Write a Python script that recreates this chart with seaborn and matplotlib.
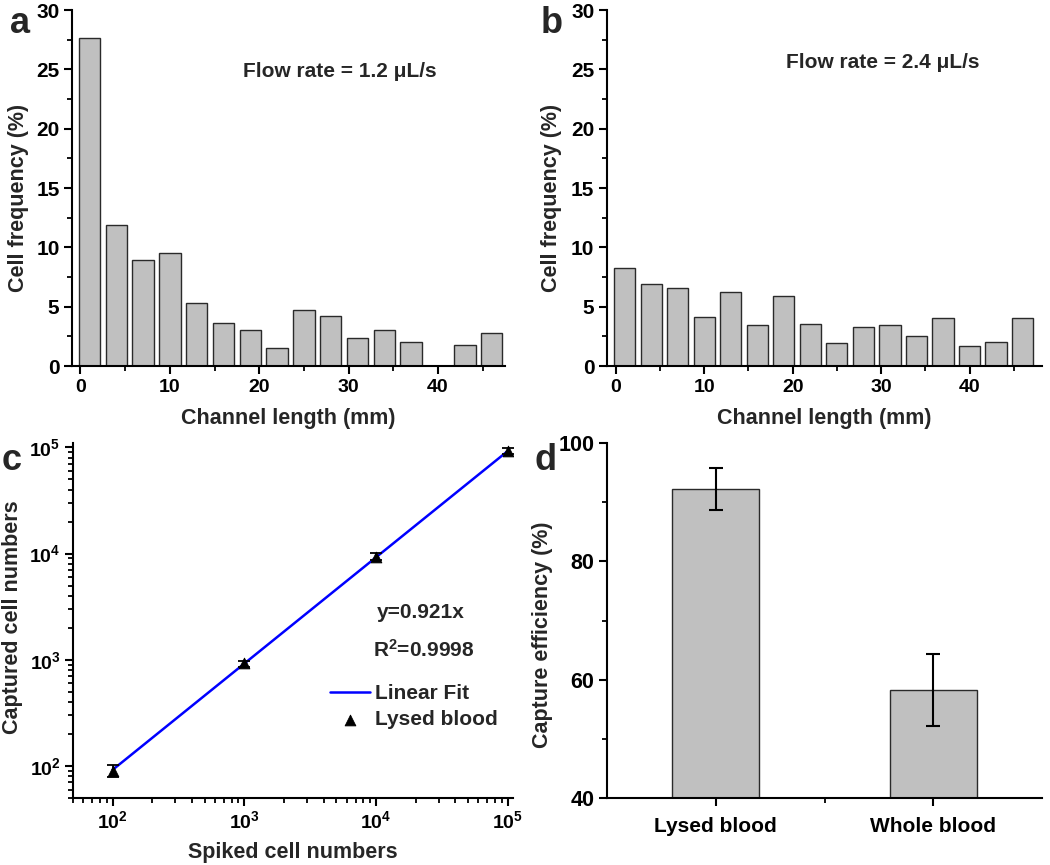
import numpy as np
import pandas as pd
import matplotlib
matplotlib.use("Agg")
import matplotlib.pyplot as plt
import seaborn as sns
from matplotlib.ticker import MultipleLocator, FixedLocator, LogLocator, FuncFormatter, NullFormatter

# ---------------- data ----------------
bin_centers_mm = [1, 4, 7, 10, 13, 16, 19, 22, 25, 28, 31, 34, 37, 40, 43, 46]
freq_flow_12 = [27.6, 11.9, 8.9, 9.5, 5.3, 3.6, 3.0, 1.5, 4.75, 4.2, 2.35, 3.0, 2.0, 0.0, 1.8, 2.8]
freq_flow_24 = [8.3, 6.9, 6.55, 4.1, 6.2, 3.45, 5.9, 3.55, 1.95, 3.3, 3.45, 2.5, 4.05, 1.7, 2.05, 4.05]

spiked_cells = [1e2, 1e3, 1e4, 1e5]
captured_cells = [90, 925, 9350, 92000]
captured_err = [12, 60, 700, 6000]
fit_slope = 0.921
fit_r2 = 0.9998

groups = ["Lysed blood", "Whole blood"]
efficiency = [92.2, 58.3]
efficiency_err = [3.6, 6.1]

# ---------------- style ----------------
sns.set_theme(style="ticks")
plt.rcParams["font.family"] = ["Liberation Sans", "DejaVu Sans"]
plt.rcParams["font.weight"] = "bold"
plt.rcParams["axes.labelweight"] = "bold"
plt.rcParams["mathtext.fontset"] = "custom"
plt.rcParams["mathtext.rm"] = "Liberation Sans:bold"
plt.rcParams["mathtext.bf"] = "Liberation Sans:bold"
plt.rcParams["mathtext.it"] = "Liberation Sans:bold"

TICK_FS = 14
YTICK_FS = 15
LABEL_FS = 15.5
TEXT_FS = 15
BAR_COLOR = "#C0C0C0"
EDGE = "#2a2a2a"

fig = plt.figure(figsize=(10.5, 8.65), dpi=100)
W, H = 1050, 865


def add_ax(left, top, right, bottom):
    return fig.add_axes([left / W, 1 - bottom / H, (right - left) / W, (bottom - top) / H])


def style_ax(ax):
    for s in ["top", "right"]:
        ax.spines[s].set_visible(False)
    for s in ["left", "bottom"]:
        ax.spines[s].set_linewidth(1.5)
        ax.spines[s].set_color("black")
    ax.tick_params(which="major", direction="out", length=6, width=1.5, labelsize=TICK_FS, colors="black", pad=3)
    ax.tick_params(axis="y", which="major", labelsize=YTICK_FS)
    ax.tick_params(which="minor", direction="out", length=3.5, width=1.3, colors="black")
    ax.set_facecolor("white")
    for lab in ax.get_xticklabels() + ax.get_yticklabels():
        lab.set_fontweight("bold")


def hist_panel(ax, values, flow_text, text_xy, ylab_x):
    df = pd.DataFrame({"length": bin_centers_mm, "freq": values})
    sns.barplot(data=df, x="length", y="freq", native_scale=True, width=0.8,
                color=BAR_COLOR, saturation=1, edgecolor=EDGE, linewidth=1.0, ax=ax)
    ax.set_xlim(-0.95, 47.5)
    ax.set_ylim(0, 30)
    ax.xaxis.set_major_locator(FixedLocator([0, 10, 20, 30, 40]))
    ax.xaxis.set_minor_locator(FixedLocator([5, 15, 25, 35, 45]))
    ax.yaxis.set_major_locator(MultipleLocator(5))
    ax.yaxis.set_minor_locator(MultipleLocator(2.5))
    ax.set_xlabel("Channel length (mm)", fontsize=LABEL_FS, fontweight="bold")
    ax.set_ylabel("Cell frequency (%)", fontsize=LABEL_FS, fontweight="bold")
    style_ax(ax)
    ax.xaxis.set_label_coords(0.5, -0.117)
    ax.yaxis.set_label_coords(ylab_x, 0.473)
    ax.text(text_xy[0], text_xy[1], flow_text, ha="center", va="center",
            fontsize=TEXT_FS, fontweight="bold")


# ---- panel a ----
ax_a = add_ax(72, 10, 505, 366)
hist_panel(ax_a, freq_flow_12, "Flow rate = 1.2 \u03bcL/s", (29.0, 24.85), -0.099)

# ---- panel b ----
ax_b = add_ax(607, 10, 1042, 366)
hist_panel(ax_b, freq_flow_24, "Flow rate = 2.4 \u03bcL/s", (30.2, 25.6), -0.103)
ax_b.set_xlim(-1.0, 48.2)

# ---- panel c ----
ax_c = add_ax(73, 443, 513, 798)
fit_x = np.array([min(spiked_cells), max(spiked_cells)])
fit_y = fit_slope * fit_x
sns.lineplot(x=fit_x, y=fit_y, color="#0000FF", linewidth=1.8, label="Linear Fit", ax=ax_c)
ax_c.errorbar(spiked_cells, captured_cells, yerr=captured_err, fmt="none",
              ecolor="black", elinewidth=1.3, capsize=4, capthick=1.3)
sns.scatterplot(x=spiked_cells, y=captured_cells, marker="^", color="black",
                edgecolor="black", s=60, label="Lysed blood", ax=ax_c, zorder=5)
ax_c.set_xscale("log")
ax_c.set_yscale("log")
ax_c.set_xlim(50, 1.1e5)
ax_c.set_ylim(50, 1.1e5)
for axis in (ax_c.xaxis, ax_c.yaxis):
    axis.set_major_locator(FixedLocator([1e2, 1e3, 1e4, 1e5]))
    axis.set_minor_locator(LogLocator(base=10, subs=np.arange(2, 10), numticks=20))
    axis.set_minor_formatter(NullFormatter())
    axis.set_major_formatter(FuncFormatter(lambda v, p: r"$\mathbf{10^{%d}}$" % int(round(np.log10(v)))))
ax_c.set_xlabel("Spiked cell numbers", fontsize=LABEL_FS, fontweight="bold")
ax_c.set_ylabel("Captured cell numbers", fontsize=LABEL_FS, fontweight="bold")
style_ax(ax_c)
ax_c.tick_params(axis="y", which="major", labelsize=TICK_FS)
ax_c.xaxis.set_label_coords(0.5, -0.123)
ax_c.yaxis.set_label_coords(-0.114, 0.51)
leg = ax_c.legend(loc="upper left", bbox_to_anchor=(0.566, 0.345), frameon=False,
                  fontsize=TEXT_FS, handlelength=1.9, handletextpad=0.25,
                  labelspacing=0.35, borderaxespad=0)
for t in leg.get_texts():
    t.set_fontweight("bold")
ax_c.text(0.791, 0.522, "y=%.3fx" % fit_slope, transform=ax_c.transAxes,
          ha="center", va="center", fontsize=TEXT_FS, fontweight="bold")
ax_c.text(0.798, 0.418, r"R$^{\mathbf{2}}$=%.4f" % fit_r2, transform=ax_c.transAxes,
          ha="center", va="center", fontsize=TEXT_FS, fontweight="bold")

# ---- panel d ----
ax_d = add_ax(607, 443, 1042, 798)
df_d = pd.DataFrame({"group": groups, "eff": efficiency})
sns.barplot(data=df_d, x="group", y="eff", width=0.4, color=BAR_COLOR, saturation=1,
            edgecolor=EDGE, linewidth=1.0, ax=ax_d)
ax_d.errorbar(np.arange(len(groups)), efficiency, yerr=efficiency_err, fmt="none",
              ecolor="black", elinewidth=1.5, capsize=5, capthick=1.5)
ax_d.set_xlim(-0.5, 1.5)
ax_d.set_ylim(40, 100)
ax_d.yaxis.set_major_locator(MultipleLocator(20))
ax_d.yaxis.set_minor_locator(MultipleLocator(10))
ax_d.xaxis.set_minor_locator(FixedLocator([0.5]))
ax_d.set_xlabel("")
ax_d.set_ylabel("Capture efficiency (%)", fontsize=LABEL_FS, fontweight="bold")
style_ax(ax_d)
ax_d.tick_params(axis="x", which="major", pad=8, labelsize=TEXT_FS)
ax_d.tick_params(axis="y", which="major", labelsize=15.5)
ax_d.yaxis.set_label_coords(-0.124, 0.46)

# ---- panel letters ----
for letter, (x, y) in {"a": (10, 33), "b": (541, 33), "c": (2, 470), "d": (535, 470)}.items():
    fig.text(x / W, 1 - y / H, letter, fontsize=26, fontweight="bold", ha="left", va="baseline")

fig.savefig("out.png", dpi=100, facecolor="white")
